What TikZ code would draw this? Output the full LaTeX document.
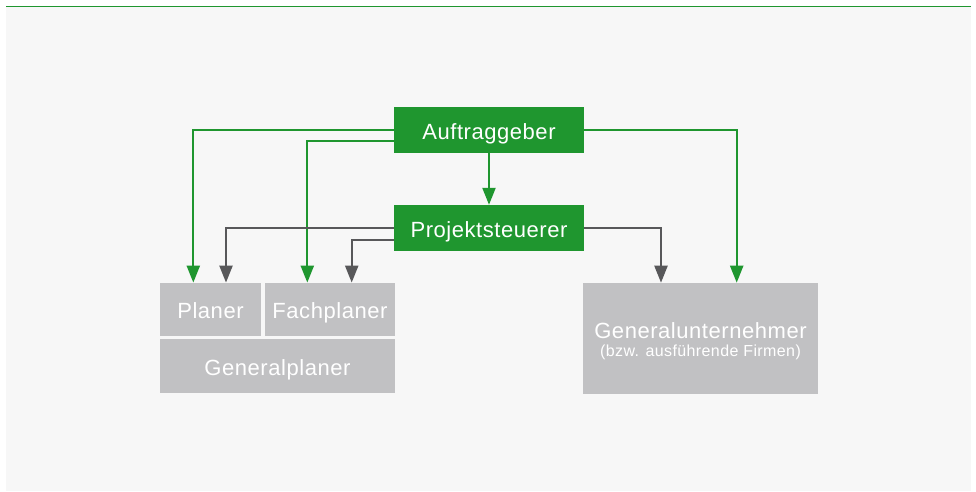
\documentclass[tikz,border=0pt]{standalone}
\usepackage{fontspec}
\setmainfont{Liberation Sans}[LetterSpace=2.5]
\usetikzlibrary{arrows.meta}
\definecolor{gr}{HTML}{1F962F}
\definecolor{bx}{HTML}{C1C1C3}
\definecolor{dk}{HTML}{58585A}
\definecolor{bg}{HTML}{F7F7F7}
\tikzset{
  greenbox/.style={fill=gr,text=white,minimum width=190pt,minimum height=46pt,inner sep=0pt,text height=18pt,text depth=0pt,font=\fontsize{22}{26}\selectfont},
  graybox/.style={fill=bx,text=white,inner sep=0pt,text height=18pt,text depth=0pt,font=\fontsize{22}{26}\selectfont},
  garr/.style={draw=gr,line width=2.2pt,-{Triangle[length=17pt,width=13pt]},color=gr},
  darr/.style={draw=dk,line width=2.2pt,-{Triangle[length=17pt,width=13pt]},color=dk}
}
\begin{document}
\begin{tikzpicture}[x=1pt,y=-1pt]
\useasboundingbox (0,0) rectangle (976,491);
\fill[bg] (6,7) rectangle (971,491);
\draw[gr,line width=1.6pt] (6,6.6) -- (971,6.6);
\node[greenbox] (auf) at (489,130) {Auftraggeber};
\node[greenbox] (proj) at (489,228) {Projektsteuerer};
\node[graybox,minimum width=101pt,minimum height=53pt] (plan) at (210.5,309.3) {Planer};
\node[graybox,minimum width=130pt,minimum height=53pt] (fach) at (330,309.3) {Fachplaner};
\node[graybox,minimum width=235pt,minimum height=54pt] (gp) at (277.5,366.2) {Generalplaner};
\node[graybox,minimum width=235.6pt,minimum height=111pt,text height=0pt] (gu) at (700.5,338.4) {};
\node[text=white,font=\fontsize{22}{26}\selectfont,anchor=base,inner sep=0pt] (gut) at (700.5,338) {Generalunternehmer};
\node[text=white,font=\fontsize{16}{19}\selectfont,anchor=base,inner sep=0pt] (gus) at (700.5,356.5) {(bzw. ausführende Firmen)};
% green arrows
\draw[garr] (auf.west) -| ([xshift=-17.2pt]plan.north);
\draw[garr] ([yshift=-11pt]auf.west) -| ([xshift=-22.7pt]fach.north);
\draw[garr] (auf.east) -| ([xshift=36.2pt]gu.north);
\draw[garr] (auf.south) -- (proj.north);
% dark arrows
\draw[darr] (proj.west) -| ([xshift=15.5pt]plan.north);
\draw[darr] ([yshift=-12pt]proj.west) -| ([xshift=21.7pt]fach.north);
\draw[darr] (proj.east) -| ([xshift=-39.5pt]gu.north);
\end{tikzpicture}
\end{document}
